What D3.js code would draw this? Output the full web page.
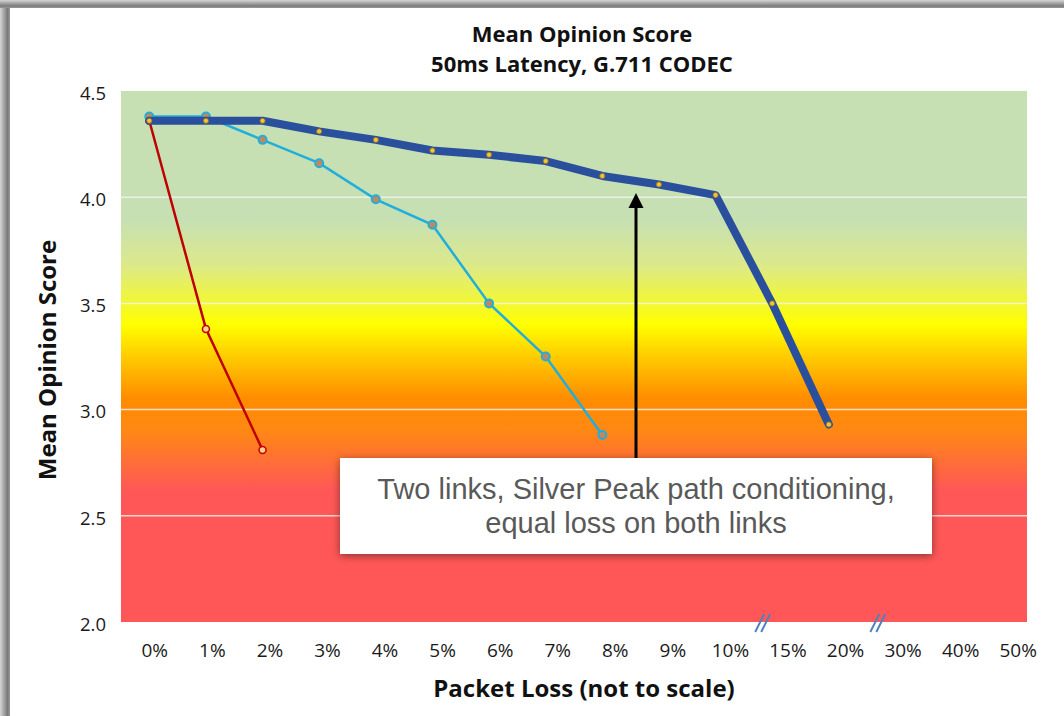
<!doctype html>
<html>
<head>
<meta charset="utf-8">
<title>Mean Opinion Score</title>
<script src="https://d3js.org/d3.v7.min.js"></script>
<style>
  body { margin: 0; background: #fff; }
  svg text { font-family: "Open Sans", "Noto Sans", sans-serif; }
</style>
</head>
<body>
<svg width="1064" height="716"></svg>
<script>
// chart data
var categories = ["0%", "1%", "2%", "3%", "4%", "5%", "6%", "7%", "8%", "9%", "10%", "15%", "20%", "30%", "40%", "50%"];
var yTicks = [2.0, 2.5, 3.0, 3.5, 4.0, 4.5];
// thick dark blue line: two links with path conditioning
var conditioned = [4.36, 4.36, 4.36, 4.31, 4.27, 4.22, 4.20, 4.17, 4.10, 4.06, 4.01, 3.50, 2.93];
// light blue line
var twoLinks = [4.38, 4.38, 4.27, 4.16, 3.99, 3.87, 3.50, 3.25, 2.88];
// red line
var oneLink = [4.36, 3.38, 2.81];
var axisBreaks = [["10%", "15%"], ["20%", "30%"]];
var titleLines = ["Mean Opinion Score", "50ms Latency, G.711 CODEC"];
var noteLines = ["Two links, Silver Peak path conditioning,", "equal loss on both links"];

var svg = d3.select("svg");
var defs = svg.append("defs");

var plotLeft = 121, plotRight = 1027, plotTop = 91, plotBottom = 622;

var x = d3.scaleBand().domain(categories).range([plotLeft, plotRight]);
var xLabel = d3.scaleBand().domain(categories).range([126, 1047]);
var y = d3.scaleLinear().domain([2, 4.5]).range([plotBottom, plotTop]);
var px = function(i) { return x(categories[i]) + x.bandwidth() / 2; };

// frame shadow on left and top
var sh = defs.append("linearGradient").attr("id", "shL");
sh.append("stop").attr("offset", 0).attr("stop-color", "#d6d6d6");
sh.append("stop").attr("offset", 0.75).attr("stop-color", "#7a7a7a");
sh.append("stop").attr("offset", 1).attr("stop-color", "#9a9a9a");
var shT = defs.append("linearGradient").attr("id", "shT").attr("x2", 0).attr("y2", 1);
shT.append("stop").attr("offset", 0).attr("stop-color", "#d6d6d6");
shT.append("stop").attr("offset", 0.75).attr("stop-color", "#7a7a7a");
shT.append("stop").attr("offset", 1).attr("stop-color", "#9a9a9a");
svg.append("rect").attr("x", 0).attr("y", 0).attr("width", 10).attr("height", 716).attr("fill", "url(#shL)");
svg.append("rect").attr("x", 0).attr("y", 0).attr("width", 1064).attr("height", 8).attr("fill", "url(#shT)");

// background gradient by score
var bg = defs.append("linearGradient").attr("id", "bg")
  .attr("gradientUnits", "userSpaceOnUse")
  .attr("x1", 0).attr("x2", 0).attr("y1", y(4.5)).attr("y2", y(2));
[[4.5, "#c6e0b4"], [3.9, "#c6e0b4"], [3.68, "#dce98a"], [3.4, "#ffff00"], [3.25, "#ffcc00"],
 [3.05, "#ff8c00"], [2.9, "#ff8814"], [2.62, "#ff5757"], [2.0, "#ff5757"]].forEach(function(s) {
  bg.append("stop").attr("offset", (4.5 - s[0]) / 2.5).attr("stop-color", s[1]);
});
svg.append("rect").attr("x", plotLeft).attr("y", plotTop)
  .attr("width", plotRight - plotLeft).attr("height", plotBottom - plotTop)
  .attr("fill", "url(#bg)");

// gridlines
svg.append("g").selectAll("line").data(yTicks.filter(function(d) { return d > 2 && d < 4.5; }))
  .enter().append("line")
  .attr("x1", plotLeft).attr("x2", plotRight)
  .attr("y1", function(d) { return y(d); }).attr("y2", function(d) { return y(d); })
  .attr("stroke", "#f4f4f4").attr("stroke-opacity", 0.8).attr("stroke-width", 1.5);

// axes
var yAxis = svg.append("g").attr("transform", "translate(" + plotLeft + ",0)")
  .call(d3.axisLeft(y).tickValues(yTicks).tickFormat(d3.format(".1f")).tickSize(0).tickPadding(15));
yAxis.select(".domain").remove();
yAxis.selectAll("text").attr("font-size", 18.5).attr("fill", "#1a1a1a").attr("dy", "0.45em")
  .style("font-family", "'Open Sans'");

var xAxis = svg.append("g").attr("transform", "translate(0," + plotBottom + ")")
  .call(d3.axisBottom(xLabel).tickSize(0).tickPadding(22));
xAxis.select(".domain").remove();
xAxis.selectAll("text").attr("font-size", 19).attr("fill", "#1a1a1a").style("font-family", "'Open Sans'");

// axis break marks
axisBreaks.forEach(function(b) {
  var cx = (xLabel(b[0]) + xLabel(b[1])) / 2 + xLabel.bandwidth() / 2 + 4;
  [-3, 3].forEach(function(o) {
    svg.append("line")
      .attr("x1", cx + o - 5).attr("y1", plotBottom + 10)
      .attr("x2", cx + o + 4).attr("y2", plotBottom - 8)
      .attr("stroke", "#4f81bd").attr("stroke-width", 2);
  });
});

// titles
svg.append("text").attr("x", 582).attr("y", 42).attr("text-anchor", "middle")
  .attr("font-size", 22).attr("font-weight", "bold").attr("fill", "#111")
  .selectAll("tspan").data(titleLines).enter().append("tspan")
  .attr("x", 582).attr("dy", function(d, i) { return i ? 30 : 0; })
  .text(function(d) { return d; });

svg.append("text").attr("transform", "translate(56,360) rotate(-90)").attr("text-anchor", "middle")
  .attr("font-size", 24).attr("font-weight", "bold").attr("fill", "#111")
  .text("Mean Opinion Score");

svg.append("text").attr("x", 584).attr("y", 697).attr("text-anchor", "middle")
  .attr("font-size", 24).attr("font-weight", "bold").attr("fill", "#111")
  .text("Packet Loss (not to scale)");

// lines
var line = d3.line().x(function(d, i) { return px(i); }).y(function(d) { return y(d); });

svg.append("path").datum(oneLink).attr("d", line)
  .attr("fill", "none").attr("stroke", "#c00000").attr("stroke-width", 2.5);
svg.append("g").selectAll("circle").data(oneLink).enter().append("circle")
  .attr("cx", function(d, i) { return px(i); }).attr("cy", function(d) { return y(d); })
  .attr("r", 3.5).attr("fill", "#ffd08a").attr("stroke", "#c00000").attr("stroke-width", 1.5);

svg.append("path").datum(twoLinks).attr("d", line)
  .attr("fill", "none").attr("stroke", "#22aedb").attr("stroke-width", 2.5);
svg.append("g").selectAll("circle").data(twoLinks).enter().append("circle")
  .attr("cx", function(d, i) { return px(i); }).attr("cy", function(d) { return y(d); })
  .attr("r", 4).attr("fill", "#c2875c").attr("stroke", "#22aedb").attr("stroke-width", 2);

svg.append("path").datum(conditioned).attr("d", line)
  .attr("fill", "none").attr("stroke", "#2a4f9c").attr("stroke-width", 8)
  .attr("stroke-linejoin", "round").attr("stroke-linecap", "round");
svg.append("g").selectAll("circle").data(conditioned).enter().append("circle")
  .attr("cx", function(d, i) { return px(i); }).attr("cy", function(d) { return y(d); })
  .attr("r", 2.6).attr("fill", "#f2c530").attr("stroke", "#8a6a2a").attr("stroke-width", 0.8);

// annotation arrow and box
var ax = 636, boxTop = 458;
var tipY = y(4.02);
svg.append("line").attr("x1", ax).attr("x2", ax).attr("y1", boxTop).attr("y2", tipY + 14)
  .attr("stroke", "#000").attr("stroke-width", 3);
svg.append("path")
  .attr("d", "M" + ax + "," + tipY + "L" + (ax - 7.5) + "," + (tipY + 15) + "L" + (ax + 7.5) + "," + (tipY + 15) + "Z")
  .attr("fill", "#000");

var shadow = defs.append("filter").attr("id", "boxShadow")
  .attr("x", -0.1).attr("y", -0.3).attr("width", 1.2).attr("height", 1.6);
shadow.append("feDropShadow").attr("dx", 0).attr("dy", 2).attr("stdDeviation", 4)
  .attr("flood-color", "#000").attr("flood-opacity", 0.45);

svg.append("rect").attr("x", 340).attr("y", boxTop).attr("width", 592).attr("height", 96)
  .attr("fill", "#fff").attr("filter", "url(#boxShadow)");
svg.append("g").selectAll("text").data(noteLines).enter().append("text")
  .attr("x", ax).attr("y", function(d, i) { return 499 + i * 34; })
  .attr("text-anchor", "middle").attr("font-size", 29).attr("fill", "#595959")
  .style("font-family", "'Liberation Sans', Arial, sans-serif")
  .text(function(d) { return d; });
</script>
</body>
</html>
